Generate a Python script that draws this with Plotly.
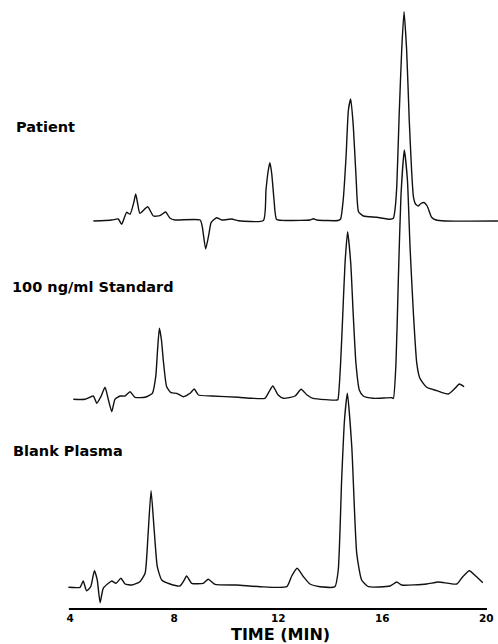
import plotly.graph_objects as go

# ---------------- data (time in min, detector response in arbitrary units) ----------------
patient_time = [4.89, 5.60, 5.85, 5.98, 6.17, 6.30, 6.44, 6.52, 6.59, 6.68, 6.98, 7.20, 7.45, 7.67,
                7.84, 8.03, 9.00, 9.08, 9.21, 9.34, 9.42, 9.63, 9.83, 10.21, 10.47, 11.43, 11.53,
                11.62, 11.68, 11.75, 11.84, 11.94, 12.45, 13.22, 13.35, 13.49, 14.30, 14.40, 14.50,
                14.61, 14.70, 14.79, 14.89, 15.00, 15.09, 15.28, 15.79, 16.30, 16.43, 16.49, 16.56,
                16.65, 16.75, 16.84, 16.94, 17.04, 17.13, 17.20, 17.28, 17.39, 17.49, 17.61, 17.73,
                17.90, 18.07, 18.42, 20.45]
patient_signal = [0, 1, 2, -3.3, 8.7, 6.7, 18, 27, 18, 7.7, 14.3, 5, 5.3, 9,
                  2.7, 1, 1, -5.7, -28, -12.3, -1.7, 3.3, 1, 2, 0.3, 0.5, 31,
                  51, 58.3, 47.7, 21, 1.5, 0.5, 1, 2.3, 1, 0.5, 2, 21,
                  64.3, 111, 122, 94.3, 41, 9.3, 5, 3.7, 1.7, 2.7, 11, 34.3,
                  104.3, 171, 209.3, 171, 101, 51, 24.3, 17, 15, 17.5, 18.5, 15,
                  3.7, 1, 0, 0]

standard_time = [4.12, 4.57, 4.89, 5.02, 5.18, 5.34, 5.47, 5.60, 5.72, 5.92, 6.11, 6.30, 6.49,
                 6.88, 7.16, 7.29, 7.36, 7.43, 7.51, 7.58, 7.71, 7.88, 8.10, 8.35, 8.61, 8.77,
                 8.93, 9.44, 10.47, 10.98, 11.49, 11.65, 11.79, 12.00, 12.20, 12.65, 12.88, 13.11,
                 13.34, 14.26, 14.30, 14.40, 14.48, 14.57, 14.67, 14.79, 14.89, 14.99, 15.12, 15.27,
                 15.66, 16.37, 16.43, 16.53, 16.62, 16.72, 16.85, 16.97, 17.07, 17.20, 17.33, 17.45,
                 17.71, 18.10, 18.54, 18.80, 18.97, 19.15]
standard_signal = [0.2, 0.2, 3.5, -3.8, 2.8, 12.2, -0.5, -12.2, 0.2, 3.5, 3.5, 7.8, 2.2,
                   2.2, 6.2, 22.8, 49.5, 71.2, 59.5, 39.5, 12.8, 6.8, 6.2, 2.8, 6.2, 10.5,
                   4.5, 3.5, 2.2, 1.2, 1.2, 7.8, 13.5, 4.5, 1.2, 3.5, 10.2, 4.5,
                   1.2, -0.5, 0.2, 36.2, 82.8, 136.2, 167.8, 136.2, 82.8, 36.2, 9.5, 3.5,
                   1.2, 1.8, 1.2, 36.2, 119.5, 202.8, 249.5, 219.5, 152.8, 86.2, 36.2, 21.2,
                   12.2, 8.8, 5.5, 11.2, 15.5, 12.8]

blank_time = [3.93, 4.38, 4.50, 4.63, 4.79, 4.93, 5.04, 5.15, 5.27, 5.47, 5.60, 5.76, 5.95,
              6.11, 6.37, 6.68, 6.88, 6.99, 7.11, 7.23, 7.35, 7.52, 7.84, 8.22, 8.35, 8.48,
              8.67, 9.12, 9.31, 9.57, 10.40, 11.30, 12.33, 12.52, 12.73, 12.97, 13.22, 13.61,
              14.18, 14.31, 14.44, 14.55, 14.66, 14.83, 15.02, 15.21, 15.47, 16.30, 16.56,
              16.75, 17.71, 18.16, 18.87, 19.10, 19.35, 19.63, 19.87]
blank_signal = [-0.6, -0.6, 5.7, -4, 0, 16, 6.7, -16, -1.6, 3.4, 5.7, 3.4, 8.4,
                2.7, 1.7, 5, 13.4, 50, 96, 56.7, 20, 6.7, 2.7, 0.7, 5, 10.7,
                3.4, 3.4, 7.4, 2.4, 1.7, 0, 0, 10.7, 18.4, 10, 2.7, 0,
                0, 16.7, 106.7, 166.7, 193.4, 140, 33.4, 6.7, 0, 0.7, 4.7,
                1.7, 2.7, 4.7, 2.7, 10, 16, 10, 4]

trace_labels = ["Patient", "100 ng/ml Standard", "Blank Plasma"]
tick_values = [4, 8, 12, 16, 20]
tick_labels = ["4", "8", "12", "16", "20"]
axis_title = "TIME (MIN)"

assert len(patient_time) == len(patient_signal)
assert len(standard_time) == len(standard_signal)
assert len(blank_time) == len(blank_signal)

# ---------------- layout / style ----------------
W, H = 498, 644
PLOT_H = 610                      # plot area height in px
PX_PER_MIN = 26.0
X4_PX = 70.2                      # pixel position of t = 4 min
x_range = [4 - X4_PX / PX_PER_MIN, 4 + (W - X4_PX) / PX_PER_MIN]

offsets = {"Patient": 389.0, "100 ng/ml Standard": 210.5, "Blank Plasma": 23.3}
label_pos = {"Patient": (14, 483), "100 ng/ml Standard": (10, 323), "Blank Plasma": (11, 159)}

LINE = dict(color="#111111", width=1.4, shape="spline", smoothing=0.5)
FONT = "DejaVu Sans"

fig = go.Figure()
series = [(patient_time, patient_signal), (standard_time, standard_signal), (blank_time, blank_signal)]
for name, (tx, sy) in zip(trace_labels, series):
    off = offsets[name]
    fig.add_trace(go.Scatter(x=tx, y=[v + off for v in sy], mode="lines",
                             line=LINE, name=name, showlegend=False, hoverinfo="skip"))

for name in trace_labels:
    px, py = label_pos[name]
    fig.add_annotation(text=name, xref="paper", yref="y", x=px / W, y=py,
                       xanchor="left", yanchor="middle", showarrow=False,
                       font=dict(family=FONT, size=14.5, color="black", weight="bold"))

fig.add_annotation(text=axis_title, xref="paper", yref="paper", x=280 / W,
                   y=(PLOT_H - 634) / PLOT_H, xanchor="center", yanchor="middle",
                   showarrow=False, font=dict(family=FONT, size=16, color="black", weight="bold"))

fig.add_shape(type="line", xref="x", yref="y", x0=3.95, x1=20.03, y0=1, y1=1,
              line=dict(color="black", width=2))

fig.update_layout(
    width=W, height=H,
    margin=dict(l=0, r=0, t=0, b=H - PLOT_H, pad=0),
    paper_bgcolor="white", plot_bgcolor="white",
    xaxis=dict(range=x_range, showgrid=False, zeroline=False, showline=False,
               tickmode="array", tickvals=tick_values, ticktext=tick_labels,
               ticks="", tickfont=dict(family=FONT, size=10.5, color="black", weight="bold")),
    yaxis=dict(range=[0, PLOT_H], visible=False, fixedrange=True),
    showlegend=False,
)

# remove the browser's default page margin so the figure fills the window exactly
fig.write_html("out.html",
               config={"displayModeBar": False, "staticPlot": True},
               post_script="document.body.style.margin='0';document.body.style.overflow='hidden';")
